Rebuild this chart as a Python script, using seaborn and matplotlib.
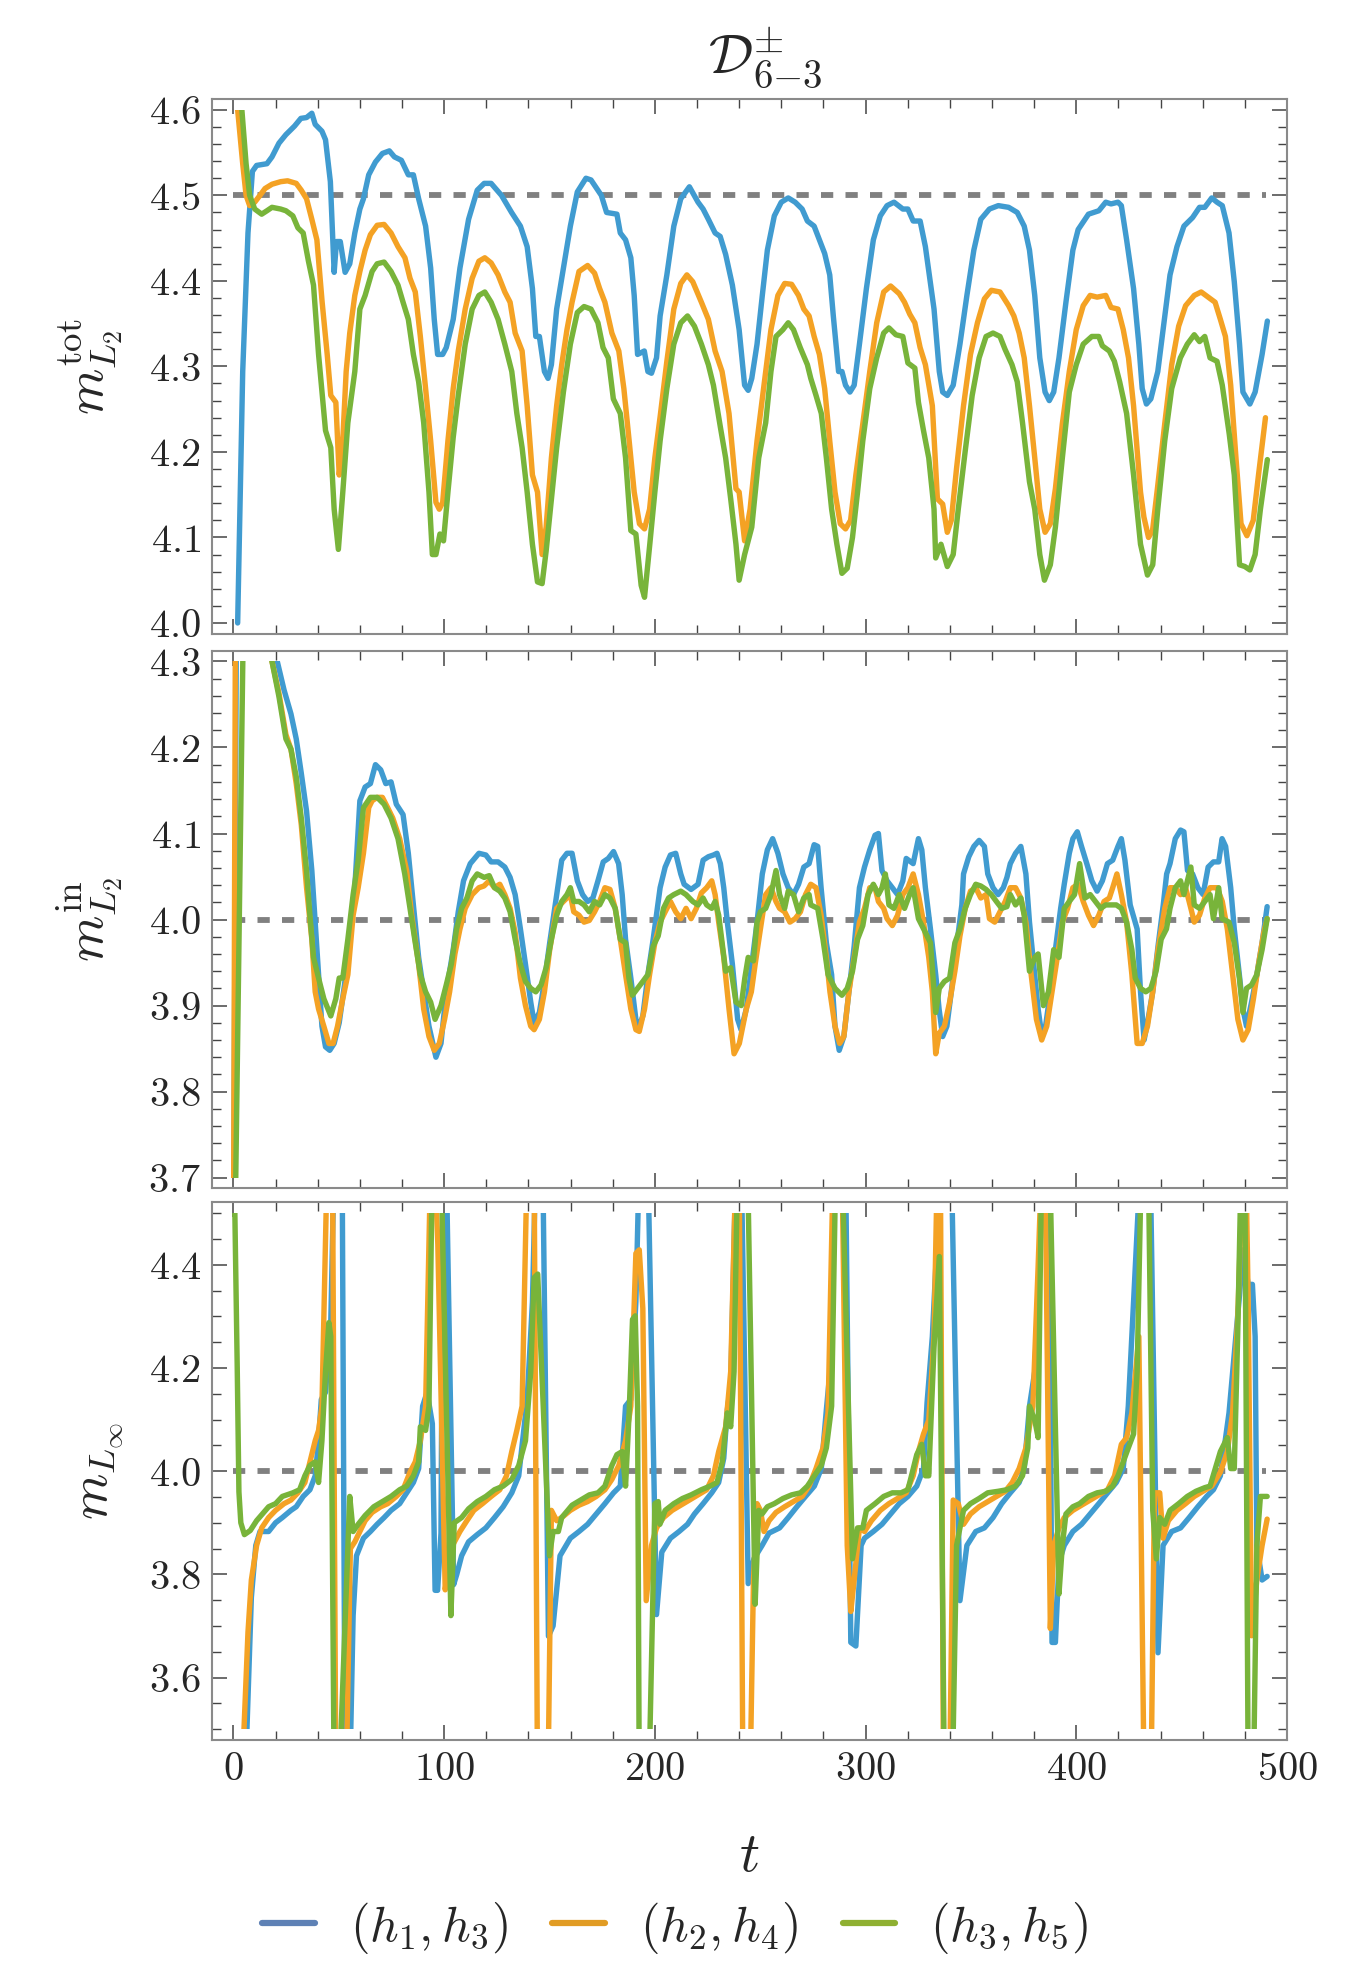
import matplotlib
matplotlib.use("Agg")
import matplotlib.pyplot as plt
import seaborn as sns
import pandas as pd
from matplotlib.patches import Rectangle
from matplotlib.lines import Line2D
from matplotlib.ticker import MultipleLocator, FuncFormatter

# ---- data (t, value) ----
labels = ["$(h_1,h_3)$", "$(h_2,h_4)$", "$(h_3,h_5)$"]
line_colors = ["#409bd0", "#f4a224", "#78b43a"]
legend_colors = ["#5e81b5", "#e19c24", "#8fb032"]

# panel 1: m^tot_L2
tot_h13 = [(2, 4.0), (4.4, 4.294), (6.9, 4.456), (9, 4.528), (11, 4.535), (15.9, 4.537), (18.3, 4.545), (21.6, 4.561),
           (24.9, 4.571), (29, 4.581), (32, 4.59), (34.7, 4.591), (37.2, 4.596), (38.8, 4.583), (42, 4.575), (43.7, 4.565),
           (46, 4.516), (47, 4.456), (47.8, 4.41), (48.9, 4.446), (50.7, 4.446), (53, 4.41), (55.2, 4.42), (57.6, 4.456),
           (60, 4.484), (61.7, 4.496), (64.2, 4.524), (67.4, 4.539), (70.7, 4.549), (74, 4.552), (76.4, 4.545), (79.7, 4.541),
           (83, 4.524), (85.4, 4.524), (87.9, 4.496), (91.2, 4.464), (93.6, 4.415), (95.3, 4.355), (96.9, 4.314), (99.3, 4.314),
           (101, 4.322), (104.3, 4.355), (107.5, 4.415), (111.6, 4.472), (115.7, 4.506), (119, 4.514), (122.3, 4.514),
           (127.2, 4.5), (132, 4.48), (136.2, 4.464), (139.4, 4.44), (141.9, 4.391), (143.5, 4.335), (145.2, 4.335),
           (147.6, 4.294), (149.3, 4.286), (150.9, 4.302), (153.4, 4.367), (156.6, 4.415), (159.9, 4.464), (163.2, 4.504),
           (167.3, 4.52), (169.7, 4.518), (174.6, 4.5), (177.1, 4.48), (182, 4.478), (183.6, 4.456), (186.1, 4.448),
           (188.6, 4.427), (190.2, 4.383), (191.8, 4.314), (195, 4.318), (196.7, 4.294), (198.4, 4.292), (200.8, 4.31),
           (202.5, 4.359), (205.7, 4.407), (209, 4.464), (212.3, 4.496), (216.4, 4.51), (220.5, 4.492), (222.9, 4.484),
           (225.4, 4.472), (228.6, 4.456), (231, 4.452), (233.6, 4.431), (236.8, 4.395), (240, 4.343), (242.6, 4.278),
           (244.3, 4.272), (246, 4.286), (248.5, 4.326), (251, 4.383), (253.4, 4.436), (256.7, 4.476), (260, 4.492),
           (263.3, 4.497), (266.6, 4.492), (269.9, 4.484), (272.4, 4.47), (275.6, 4.464), (278.1, 4.448), (280.6, 4.432),
           (283, 4.407), (284.7, 4.359), (287.2, 4.294), (288.8, 4.294), (290.5, 4.278), (292.6, 4.27), (294.6, 4.278),
           (297.1, 4.326), (300.4, 4.391), (303.7, 4.448), (307, 4.476), (310.2, 4.488), (313.5, 4.492), (317.7, 4.484),
           (320.1, 4.484), (322.6, 4.47), (325.9, 4.47), (328.4, 4.44), (332.5, 4.367), (335, 4.294), (336.6, 4.27),
           (338.8, 4.266), (341.6, 4.278), (344.8, 4.326), (348.1, 4.383), (351.4, 4.436), (354.7, 4.472), (358.8, 4.484),
           (363, 4.488), (367.9, 4.486), (372, 4.48), (375.3, 4.464), (377.8, 4.436), (380.3, 4.383), (382.7, 4.31),
           (385.2, 4.27), (387.2, 4.26), (389.3, 4.27), (391.8, 4.31), (395.1, 4.375), (398.4, 4.436), (400.9, 4.46),
           (405.8, 4.478), (410.7, 4.482), (414, 4.492), (416.5, 4.49), (419.8, 4.492), (421.4, 4.488), (423.9, 4.448),
           (427.2, 4.391), (429.7, 4.326), (431.3, 4.274), (433.3, 4.256), (435.4, 4.262), (438.7, 4.294), (441.2, 4.343),
           (444.5, 4.407), (447.8, 4.44), (451.1, 4.464), (455.2, 4.474), (458.5, 4.486), (461, 4.486), (464.3, 4.497),
           (466.8, 4.492), (469.3, 4.488), (472.5, 4.456), (475, 4.399), (477.5, 4.326), (479.1, 4.27), (482.4, 4.256),
           (484.9, 4.27), (488.2, 4.314), (490.7, 4.353)]
tot_h24 = [(2, 4.6), (4.4, 4.537), (6, 4.5), (7.7, 4.488), (10.1, 4.492), (12.6, 4.5), (15, 4.508), (18.3, 4.513),
           (22.4, 4.516), (25.7, 4.517), (29.8, 4.514), (32.2, 4.506), (34.7, 4.496), (37.2, 4.472), (39.6, 4.448),
           (42.1, 4.375), (44.5, 4.314), (46.2, 4.266), (48.6, 4.258), (50.2, 4.173), (51.9, 4.214), (53.5, 4.294),
           (55.2, 4.339), (57.6, 4.383), (60, 4.411), (62.5, 4.436), (65, 4.454), (68.2, 4.465), (71.5, 4.466), (74.8, 4.456),
           (78.1, 4.44), (81.4, 4.427), (83.8, 4.403), (86.3, 4.387), (88.7, 4.335), (91.2, 4.274), (93.6, 4.213),
           (96.1, 4.141), (97.7, 4.133), (99.3, 4.141), (101.8, 4.213), (104.3, 4.274), (106.7, 4.318), (110, 4.367),
           (113.3, 4.403), (116.5, 4.423), (119.3, 4.427), (122.3, 4.421), (125.6, 4.407), (128.8, 4.387), (131.3, 4.375),
           (133.7, 4.339), (137, 4.318), (139.4, 4.254), (141.9, 4.173), (144.3, 4.153), (146.5, 4.08), (148.4, 4.112),
           (150.9, 4.193), (153.4, 4.254), (155.8, 4.302), (158.3, 4.343), (160.7, 4.375), (164, 4.411), (168.1, 4.418),
           (171.4, 4.409), (173.8, 4.391), (176.3, 4.375), (179.6, 4.339), (182.9, 4.318), (185.3, 4.274), (187.8, 4.213),
           (190.2, 4.153), (192.7, 4.116), (195.1, 4.11), (197.5, 4.133), (200, 4.193), (202.5, 4.241), (205.7, 4.306),
           (209, 4.367), (212.3, 4.397), (215.2, 4.407), (218, 4.399), (222.1, 4.375), (225.4, 4.355), (228.6, 4.318),
           (231.9, 4.294), (235.2, 4.245), (238.5, 4.157), (240, 4.153), (242.6, 4.096), (245.2, 4.133), (248.5, 4.213),
           (251.8, 4.278), (255.1, 4.343), (258.4, 4.383), (261.6, 4.397), (264.9, 4.396), (268.2, 4.383), (270.7, 4.367),
           (273.2, 4.359), (275.6, 4.335), (278.1, 4.314), (280.6, 4.274), (283, 4.213), (285.5, 4.153), (288, 4.116),
           (290.5, 4.11), (292.9, 4.12), (295.4, 4.173), (298.7, 4.233), (302, 4.294), (305.3, 4.351), (308.6, 4.387),
           (311.9, 4.394), (316, 4.385), (318.5, 4.375), (321, 4.361), (323.4, 4.351), (325.9, 4.322), (328.4, 4.302),
           (331.7, 4.254), (334.1, 4.145), (336.6, 4.139), (338.8, 4.106), (340.7, 4.12), (343.2, 4.181), (346.5, 4.254),
           (349.8, 4.314), (353.1, 4.351), (356.4, 4.379), (359.7, 4.389), (363.8, 4.387), (367.9, 4.371), (370.4, 4.359),
           (372.9, 4.339), (375.3, 4.31), (377.8, 4.254), (380.3, 4.193), (382.7, 4.133), (385.2, 4.106), (387.7, 4.116),
           (390.1, 4.157), (393.4, 4.233), (396.7, 4.294), (400, 4.343), (403.3, 4.371), (406.6, 4.383), (409.9, 4.381),
           (414, 4.383), (416.5, 4.369), (419.8, 4.367), (422.3, 4.343), (424.8, 4.31), (427.2, 4.254), (430.5, 4.153),
           (432.1, 4.124), (434.3, 4.1), (436.2, 4.108), (438.7, 4.161), (442, 4.233), (445.3, 4.302), (448.6, 4.347),
           (451.9, 4.371), (456, 4.383), (459.3, 4.387), (462.6, 4.381), (465.9, 4.375), (468.4, 4.355), (470.8, 4.335),
           (473.3, 4.278), (475.8, 4.193), (478.2, 4.116), (481, 4.102), (484, 4.12), (486.5, 4.173), (489.8, 4.24)]
tot_h35 = [(4, 4.6), (6, 4.537), (7.7, 4.5), (10.1, 4.484), (13.4, 4.478), (15.9, 4.482), (18.3, 4.486), (22.4, 4.484),
           (24.9, 4.482), (28.2, 4.476), (30.6, 4.462), (33.1, 4.456), (35.6, 4.423), (38, 4.395), (40.4, 4.314),
           (43.7, 4.225), (46.2, 4.205), (47.8, 4.133), (49.8, 4.086), (51.9, 4.153), (54.3, 4.234), (57.6, 4.294),
           (60, 4.367), (62.5, 4.383), (65.8, 4.411), (68.2, 4.42), (71.5, 4.422), (74.8, 4.411), (78.1, 4.395), (80.5, 4.375),
           (83, 4.355), (85.4, 4.314), (87.9, 4.282), (90.3, 4.234), (92.8, 4.153), (94.4, 4.08), (96.1, 4.08), (98, 4.104),
           (99.7, 4.096), (101.8, 4.153), (104.3, 4.217), (106.7, 4.266), (110, 4.326), (113.3, 4.367), (116.5, 4.383),
           (119.3, 4.387), (122.3, 4.375), (125.6, 4.355), (128.8, 4.326), (132.1, 4.294), (134.5, 4.245), (137, 4.205),
           (139.4, 4.153), (141.9, 4.092), (144.3, 4.048), (146.5, 4.046), (148.4, 4.084), (150.9, 4.145), (153.4, 4.205),
           (156.6, 4.27), (159.9, 4.326), (163.2, 4.363), (166.4, 4.37), (169.7, 4.367), (173, 4.351), (175.4, 4.322),
           (177.9, 4.31), (180.3, 4.262), (183.6, 4.245), (186.1, 4.193), (188.6, 4.108), (191, 4.104), (193.5, 4.044),
           (195.1, 4.03), (197.6, 4.092), (200, 4.153), (202.5, 4.213), (205.7, 4.274), (209, 4.326), (212.3, 4.351),
           (215.5, 4.359), (218.8, 4.347), (222.1, 4.326), (225.4, 4.302), (227.8, 4.278), (231.1, 4.229), (233.6, 4.193),
           (236, 4.145), (238.5, 4.092), (240, 4.05), (242.6, 4.08), (246, 4.112), (249.3, 4.193), (252.6, 4.234),
           (255.1, 4.294), (257.5, 4.335), (260.8, 4.343), (263.3, 4.351), (265.8, 4.343), (269, 4.322), (272.4, 4.302),
           (274, 4.286), (276.5, 4.266), (279, 4.245), (281.4, 4.193), (283.9, 4.133), (286.4, 4.092), (288.8, 4.058),
           (291.3, 4.064), (293.8, 4.1), (296.2, 4.153), (298.7, 4.213), (302, 4.274), (305.3, 4.31), (308.6, 4.339),
           (311.1, 4.345), (314.4, 4.337), (317.7, 4.335), (320.1, 4.304), (323.4, 4.298), (325.1, 4.258), (327.5, 4.225),
           (330, 4.193), (332.5, 4.133), (333.3, 4.076), (335.8, 4.092), (338.8, 4.066), (341.6, 4.08), (344, 4.133),
           (347.3, 4.201), (350.6, 4.266), (353.9, 4.31), (357.2, 4.335), (360.5, 4.339), (363.8, 4.335), (366.2, 4.32),
           (369.5, 4.302), (372, 4.282), (374.5, 4.234), (377.8, 4.165), (380.3, 4.133), (382.7, 4.08), (384.9, 4.05),
           (387.7, 4.068), (390.1, 4.112), (393.4, 4.193), (396.7, 4.27), (400, 4.302), (403.3, 4.326), (407.4, 4.335),
           (410.7, 4.335), (412.4, 4.324), (415.7, 4.318), (418.1, 4.306), (420.6, 4.282), (423.9, 4.245), (427.2, 4.173),
           (430.5, 4.092), (433.8, 4.056), (436.3, 4.068), (438.7, 4.133), (442, 4.213), (445.3, 4.274), (449.4, 4.31),
           (452.7, 4.326), (456, 4.337), (458.5, 4.329), (461, 4.335), (463.5, 4.31), (466.8, 4.306), (469.3, 4.278),
           (472.6, 4.221), (475, 4.173), (477.5, 4.068), (480, 4.066), (482.4, 4.062), (484.9, 4.08), (487.4, 4.133),
           (490.7, 4.191)]

# panel 2: m^in_L2
in_h13 = [(0, 3.6), (1.5, 4.4), (19, 4.4), (20.8, 4.3), (24, 4.267), (27.3, 4.239), (29.8, 4.21), (32.2, 4.17),
          (34.7, 4.126), (37.2, 4.057), (38.8, 3.997), (40.4, 3.936), (42, 3.876), (43.7, 3.852), (45.7, 3.848),
          (47.8, 3.856), (50.2, 3.88), (52.7, 3.924), (55.2, 3.977), (57.6, 4.037), (60, 4.138), (62.5, 4.154), (65, 4.158),
          (67.4, 4.18), (69.9, 4.174), (72.3, 4.158), (74.8, 4.16), (77.3, 4.134), (80.5, 4.122), (83, 4.077), (85.4, 4.017),
          (87.9, 3.956), (90.3, 3.916), (92.8, 3.876), (96.1, 3.84), (98.5, 3.856), (101, 3.916), (104.3, 3.965),
          (106.7, 4.009), (109.2, 4.045), (112.4, 4.065), (116.5, 4.077), (119.8, 4.075), (122.3, 4.067), (125.6, 4.067),
          (128.8, 4.061), (131.3, 4.049), (133.7, 4.029), (136.2, 3.989), (138.6, 3.948), (141.1, 3.904), (142.7, 3.88),
          (145.2, 3.892), (147.6, 3.928), (150.1, 3.973), (153.4, 4.029), (155.8, 4.069), (158.3, 4.077), (160.7, 4.077),
          (163.2, 4.045), (165.7, 4.029), (168.1, 4.021), (170.6, 4.025), (173, 4.045), (175.5, 4.067), (177.9, 4.071),
          (180.4, 4.079), (182.8, 4.065), (184.5, 4.029), (186.1, 3.977), (188.6, 3.932), (191, 3.884), (192.6, 3.876),
          (194.3, 3.888), (196.7, 3.936), (199.2, 3.977), (202.5, 4.037), (204.9, 4.061), (207.4, 4.075), (209.9, 4.077),
          (212.3, 4.053), (213.9, 4.041), (217.2, 4.035), (220.5, 4.041), (222.9, 4.069), (225.4, 4.073), (227.8, 4.075),
          (229.5, 4.077), (231.1, 4.065), (232.7, 4.037), (234.4, 3.997), (236.8, 3.948), (239.3, 3.884), (240.9, 3.872),
          (243.4, 3.896), (246, 3.948), (248.5, 3.997), (251, 4.053), (253.4, 4.081), (255.9, 4.094), (258.4, 4.077),
          (260.8, 4.053), (263.3, 4.037), (265.8, 4.029), (268.2, 4.041), (270.7, 4.061), (273.2, 4.065), (275.6, 4.087),
          (277.3, 4.085), (278.9, 4.037), (281.4, 3.973), (283.9, 3.936), (285.5, 3.876), (287.5, 3.848), (289.7, 3.864),
          (292.1, 3.916), (294.6, 3.969), (297.1, 4.037), (299.5, 4.061), (302, 4.081), (304.5, 4.098), (306.1, 4.1),
          (307.8, 4.057), (310.2, 4.045), (312.7, 4.037), (315.2, 4.029), (317.7, 4.045), (319.3, 4.071), (322.6, 4.065),
          (325.1, 4.094), (326.7, 4.081), (328.4, 4.037), (330.8, 3.989), (333.3, 3.936), (334.9, 3.896), (336.6, 3.864),
          (338.6, 3.876), (340.7, 3.916), (343.2, 3.969), (345.7, 4.017), (346.5, 4.053), (349, 4.073), (351.4, 4.085),
          (353.9, 4.092), (356.4, 4.085), (358, 4.053), (360.5, 4.037), (362.9, 4.029), (365.4, 4.037), (367.1, 4.049),
          (368.7, 4.065), (371.2, 4.077), (373.7, 4.085), (376.1, 4.053), (377.8, 3.997), (380.3, 3.936), (381.9, 3.896),
          (383.5, 3.868), (385.2, 3.872), (387.7, 3.916), (390.1, 3.965), (392.6, 4.013), (394.3, 4.041), (396.7, 4.077),
          (398.4, 4.094), (400.5, 4.102), (402.5, 4.085), (405, 4.065), (407.4, 4.045), (409.9, 4.033), (412.4, 4.045),
          (414.8, 4.065), (417.3, 4.069), (419.8, 4.085), (421.4, 4.094), (423.1, 4.069), (425.6, 4.017), (428.9, 3.989),
          (430.5, 3.916), (432.2, 3.86), (433.8, 3.88), (436.3, 3.916), (438.8, 3.969), (441.3, 4.017), (442.9, 4.053),
          (444.5, 4.065), (447, 4.094), (449.5, 4.104), (451.1, 4.102), (452.8, 4.057), (455.2, 4.053), (457.7, 4.037),
          (460.2, 4.029), (462.6, 4.061), (465.1, 4.067), (467.6, 4.067), (469.2, 4.094), (470.9, 4.085), (473.3, 4.037),
          (475, 3.989), (477.4, 3.936), (479.1, 3.896), (480.8, 3.876), (483.2, 3.904), (485.7, 3.936), (488.2, 3.973),
          (490.6, 4.015)]
in_h24 = [(0, 3.6), (1, 4.4), (17, 4.4), (18.3, 4.3), (21.6, 4.263), (24.9, 4.215), (27.3, 4.198), (29.8, 4.158),
          (32.2, 4.11), (34.7, 4.037), (37.2, 3.977), (38.8, 3.916), (40.4, 3.896), (42.9, 3.876), (45.3, 3.856),
          (47.3, 3.856), (49.4, 3.876), (51.9, 3.908), (54.3, 3.936), (56.8, 4.005), (59.2, 4.037), (61.7, 4.077),
          (64.2, 4.13), (65.8, 4.138), (68.2, 4.142), (70.7, 4.142), (73.2, 4.13), (75.6, 4.118), (78.9, 4.094),
          (82.2, 4.057), (84.6, 4.005), (87.9, 3.948), (90.3, 3.896), (92.8, 3.864), (95.3, 3.848), (97.7, 3.856),
          (100.2, 3.884), (102.6, 3.916), (105.1, 3.96), (107.5, 3.989), (110, 4.013), (113.3, 4.029), (116.5, 4.037),
          (118.9, 4.039), (121.4, 4.045), (123.9, 4.037), (126.4, 4.041), (128.8, 4.029), (131.3, 4.013), (133.7, 3.985),
          (136.2, 3.932), (138.6, 3.9), (141.1, 3.876), (142.7, 3.872), (145.2, 3.884), (147.6, 3.916), (150.1, 3.965),
          (153.4, 4.013), (156.6, 4.021), (159.9, 4.029), (161.5, 4.009), (164, 4.005), (166.4, 3.997), (168.9, 3.999),
          (171.4, 4.009), (173.8, 4.021), (176.3, 4.037), (178.7, 4.035), (181.2, 4.013), (183.6, 3.977), (186.1, 3.936),
          (188.6, 3.896), (191, 3.872), (192.6, 3.87), (195.1, 3.896), (197.5, 3.936), (200, 3.973), (202.5, 3.997),
          (204.9, 4.009), (207.4, 4.021), (209.9, 4.009), (212.3, 4.001), (214.8, 4.013), (217.2, 4.001), (219.7, 4.013),
          (222.1, 4.031), (224.6, 4.037), (227, 4.045), (228.6, 4.029), (230.3, 3.997), (232.7, 3.956), (235.2, 3.896),
          (237.6, 3.844), (240.1, 3.856), (243.4, 3.896), (245.8, 3.916), (247.6, 3.948), (250.1, 3.989), (252.6, 4.029),
          (255.1, 4.037), (257.5, 4.021), (259.2, 4.013), (261.6, 4.009), (264.1, 3.997), (266.6, 4.001), (269.1, 4.009),
          (271.5, 4.029), (274, 4.041), (276.5, 4.037), (278.9, 4.005), (281.4, 3.956), (283.1, 3.916), (285.5, 3.876),
          (287.7, 3.856), (289.7, 3.864), (292.1, 3.916), (294.6, 3.956), (297.1, 3.997), (299.5, 4.013), (302, 4.037),
          (304.5, 4.037), (306.1, 4.021), (308.6, 4.013), (310.2, 4.001), (312.7, 3.993), (315.2, 4.005), (317.7, 4.029),
          (320.1, 4.037), (322.6, 4.053), (325.1, 4.029), (327.5, 3.997), (330, 3.956), (331.7, 3.916), (333.3, 3.844),
          (335, 3.868), (337.4, 3.876), (339.9, 3.904), (342.4, 3.94), (344.8, 3.981), (347.3, 4.013), (349.8, 4.033),
          (352.3, 4.037), (354.7, 4.025), (357.2, 4.029), (358.8, 4.001), (361.3, 3.997), (363.8, 4.009), (366.3, 4.021),
          (368.7, 4.037), (371.2, 4.037), (373.7, 4.025), (376.1, 3.997), (378.6, 3.936), (381.1, 3.884), (383.6, 3.86),
          (386, 3.876), (388.5, 3.916), (391, 3.956), (393.4, 3.997), (395.9, 4.013), (398.4, 4.037), (400.8, 4.041),
          (403.3, 4.021), (405.8, 4.005), (408.2, 3.993), (410.7, 4.005), (413.2, 4.021), (415.7, 4.025), (417.3, 4.037),
          (419.3, 4.053), (421.4, 4.029), (423.9, 3.997), (426.4, 3.936), (428.9, 3.856), (431.3, 3.856), (433.8, 3.876),
          (436.3, 3.916), (438.8, 3.965), (442, 4.013), (444.5, 4.037), (447, 4.037), (449.5, 4.029), (451.9, 4.037),
          (454.4, 4.013), (456, 3.997), (458.5, 4.005), (461, 4.025), (463.5, 4.037), (466.8, 4.037), (469.3, 4.021),
          (471.7, 3.989), (474.2, 3.936), (476.7, 3.884), (479.1, 3.86), (481.6, 3.872), (484.1, 3.908), (486.5, 3.948),
          (489, 3.985), (490.6, 4.001)]
in_h35 = [(0.5, 3.6), (1.1, 3.7), (4.4, 4.3), (5, 4.4), (17.5, 4.4), (18.3, 4.3), (21.6, 4.259), (24.9, 4.21),
          (27.3, 4.198), (29.8, 4.166), (32.2, 4.118), (34.7, 4.057), (36.3, 4.005), (38, 3.956), (40.4, 3.932),
          (42.9, 3.908), (46.2, 3.888), (48.6, 3.908), (50.2, 3.932), (51.9, 3.932), (54.3, 3.977), (56.8, 4.029),
          (59.2, 4.069), (61.7, 4.13), (65, 4.142), (68.2, 4.142), (71.5, 4.134), (74.8, 4.118), (78.1, 4.094),
          (81.3, 4.053), (83.8, 4.013), (86.3, 3.973), (88.7, 3.936), (91.2, 3.916), (93.6, 3.904), (95.7, 3.884),
          (98.5, 3.9), (101, 3.924), (103.4, 3.948), (105.9, 3.989), (108.3, 4.013), (110.8, 4.025), (113.3, 4.045),
          (115.7, 4.053), (119, 4.049), (121.4, 4.051), (123.9, 4.037), (126.4, 4.033), (128.8, 4.025), (131.3, 4.009),
          (133.7, 3.977), (136.2, 3.948), (138.6, 3.928), (141.1, 3.92), (143.5, 3.916), (146, 3.924), (148.4, 3.944),
          (150.9, 3.977), (153.4, 4.005), (155.8, 4.021), (158.3, 4.029), (159.9, 4.037), (161.5, 4.021), (164, 4.021),
          (166.4, 4.017), (168.9, 4.009), (171.4, 4.021), (173.8, 4.017), (176.3, 4.029), (178.7, 4.025), (181.2, 4.013),
          (183.6, 3.977), (186.1, 3.973), (187.7, 3.932), (189.3, 3.912), (191.8, 3.92), (194.3, 3.928), (196.7, 3.936),
          (199.2, 3.969), (201.6, 3.981), (204.1, 4.013), (206.5, 4.025), (209, 4.029), (212.3, 4.033), (214.8, 4.029),
          (218, 4.021), (220.5, 4.017), (222.9, 4.025), (224.6, 4.017), (227, 4.013), (228.6, 4.021), (230.3, 4.005),
          (231.9, 3.973), (233.6, 3.94), (236, 3.944), (238.5, 3.904), (241, 3.9), (242.7, 3.932), (244.3, 3.956),
          (246.8, 3.952), (248.5, 3.997), (250.1, 4.009), (252.6, 4.013), (255.1, 4.029), (257.5, 4.057), (259.2, 4.029),
          (261.6, 4.013), (263.3, 4.033), (265.8, 4.029), (268.2, 4.009), (270.7, 4.025), (273.2, 4.029), (274, 4.017),
          (277.3, 4.013), (279.8, 3.977), (282.2, 3.936), (285.5, 3.92), (288.8, 3.912), (291.3, 3.92), (293.8, 3.94),
          (296.2, 3.977), (298.7, 3.993), (301.2, 4.029), (303.7, 4.041), (306.1, 4.029), (307.8, 4.037), (309.4, 4.053),
          (311.1, 4.017), (313.5, 4.013), (316, 4.029), (318.5, 4.013), (320.9, 4.029), (322.6, 4.037), (325.1, 4.001),
          (328.4, 3.985), (330.8, 3.973), (333.3, 3.892), (335, 3.92), (337.4, 3.928), (339.9, 3.932), (342.4, 3.973),
          (344.8, 3.989), (347.3, 4.013), (349.8, 4.029), (352.3, 4.041), (354.7, 4.039), (357.2, 4.035), (359.7, 4.029),
          (362.1, 4.021), (364.6, 4.013), (367.1, 4.015), (368.7, 4.029), (371.2, 4.017), (373.7, 4.025), (375.3, 4.005),
          (377.8, 3.94), (380.3, 3.956), (381.9, 3.96), (384.4, 3.9), (386.8, 3.916), (389.3, 3.965), (391.8, 3.956),
          (394.3, 4.013), (396.7, 4.021), (399.2, 4.029), (401.6, 4.065), (404.1, 4.025), (406.6, 4.029), (409.1, 4.021),
          (411.6, 4.013), (414, 4.017), (416.5, 4.017), (419, 4.017), (421.4, 4.013), (423.9, 3.997), (426.4, 3.965),
          (428, 3.932), (430.5, 3.92), (433, 3.916), (435.4, 3.92), (437.9, 3.94), (440.3, 3.977), (442.8, 3.989),
          (444.5, 4.013), (447, 4.037), (449.5, 4.045), (451.1, 4.029), (454.4, 4.061), (456, 4.017), (458.5, 4.013),
          (461, 4.021), (463.5, 4.029), (465.1, 4.001), (467.6, 4.037), (469.2, 4.001), (472.5, 3.997), (475, 3.973),
          (477.4, 3.932), (479.1, 3.892), (480.8, 3.92), (483.2, 3.924), (485.7, 3.936), (488.2, 3.965), (490.6, 4.001)]

# panel 3: m_Linf (values beyond the plot range are clipped at the frame)
inf_h13 = [(0, 3.4), (6, 3.45), (8.5, 3.755), (10.6, 3.856), (12.6, 3.883), (16.7, 3.883), (20, 3.9), (23.2, 3.91),
           (27.3, 3.924), (29.8, 3.931), (33.1, 3.951), (36.3, 3.964), (38.8, 3.991), (40.4, 4.059), (41.7, 4.139),
           (43.7, 4.153), (46.2, 4.29), (47.8, 4.6), (51.6, 4.6), (53, 3.4), (55.2, 3.4), (56.8, 3.72), (58.4, 3.836),
           (61.7, 3.87), (65, 3.883), (68.2, 3.897), (71.5, 3.91), (74.8, 3.924), (78.9, 3.937), (82.2, 3.958),
           (85.4, 3.978), (87.9, 4.005), (89.8, 4.126), (91.9, 4.153), (94.4, 4.092), (95.7, 3.769), (96.9, 3.769),
           (98.5, 3.88), (99.5, 4.6), (101, 4.6), (104.5, 3.78), (106, 3.8), (108.3, 3.836), (111.6, 3.863), (115.7, 3.877),
           (119.8, 3.89), (123.9, 3.91), (128, 3.931), (132.1, 3.958), (135.4, 3.991), (137.8, 4.079), (139.4, 4.139),
           (141.9, 4.328), (143.5, 4.6), (146.8, 4.6), (149.5, 3.68), (151.7, 3.7), (155, 3.836), (159.9, 3.87),
           (164, 3.883), (168.1, 3.897), (172.2, 3.917), (176.3, 3.937), (180.4, 3.958), (183.6, 3.971), (186.1, 4.126),
           (188.6, 4.139), (191, 4.328), (192.6, 4.6), (196.7, 4.6), (200.8, 3.722), (203.3, 3.843), (207.4, 3.87),
           (211.5, 3.883), (215.5, 3.897), (218.8, 3.917), (222.9, 3.937), (227, 3.958), (230.3, 3.978), (232.7, 4.025),
           (234.4, 4.119), (236, 4.166), (238.5, 4.6), (241, 4.6), (244.3, 3.782), (247, 3.83), (250.9, 3.856),
           (254.2, 3.88), (259.2, 3.89), (263.3, 3.91), (267.4, 3.931), (271.5, 3.951), (275.7, 3.971), (279, 4.005),
           (281.4, 4.119), (283.1, 4.193), (285.2, 4.6), (290.5, 4.6), (293, 3.668), (295.4, 3.661), (297.9, 3.856),
           (299.5, 3.87), (303.7, 3.883), (307.8, 3.897), (311.9, 3.917), (316, 3.937), (320.1, 3.951), (324.3, 3.971),
           (327.5, 4.005), (329.2, 4.133), (331.7, 4.261), (335.8, 4.6), (340.7, 4.6), (344.8, 3.749), (348.1, 3.856),
           (352.3, 3.883), (356.4, 3.89), (360.5, 3.91), (364.6, 3.937), (368.7, 3.958), (372.9, 3.978), (375.3, 4.005),
           (377.8, 4.126), (380.3, 4.193), (382.7, 4.422), (384.4, 4.6), (386.9, 4.6), (388.5, 3.668), (390.1, 3.668),
           (391.8, 3.823), (394.3, 3.856), (398.4, 3.883), (402.5, 3.897), (406.6, 3.917), (410.7, 3.937), (414.9, 3.958),
           (419, 3.978), (422.3, 4.005), (424.7, 4.126), (427.2, 4.328), (430.5, 4.6), (435.1, 4.6), (438.8, 3.648),
           (441.2, 3.856), (445.3, 3.883), (449.5, 3.89), (453.6, 3.91), (457.7, 3.931), (461.9, 3.951), (465.1, 3.964),
           (468.4, 3.991), (472.5, 4.113), (475, 4.227), (477.5, 4.342), (479.1, 4.429), (481.6, 4.362), (483.6, 4.362),
           (484.9, 4.261), (485.7, 3.856), (488.2, 3.789), (490.6, 3.796)]
inf_h24 = [(0, 3.3), (4.5, 3.45), (6.9, 3.688), (8.5, 3.789), (11, 3.856), (13.4, 3.89), (16.7, 3.91), (20, 3.924),
           (24, 3.937), (27.3, 3.944), (30.6, 3.958), (33.9, 3.978), (36.3, 4.018), (38.8, 4.059), (40.4, 4.079),
           (42, 4.126), (44.5, 4.6), (47, 4.6), (48.6, 3.4), (53.5, 3.4), (55.5, 3.85), (57.6, 3.863), (60, 3.883),
           (62.5, 3.904), (65.8, 3.92), (69.9, 3.931), (73.2, 3.937), (77.3, 3.951), (80.5, 3.964), (83.8, 3.998),
           (86.3, 4.018), (88.7, 4.059), (91.2, 4.126), (93.6, 4.6), (95.5, 4.6), (97, 4.44), (100.5, 3.77), (102.5, 3.83),
           (104.5, 3.86), (107.5, 3.883), (110.8, 3.904), (114.1, 3.924), (118.2, 3.937), (122.3, 3.951), (126.4, 3.964),
           (129.6, 3.991), (132.1, 4.038), (134.5, 4.079), (137, 4.126), (139.4, 4.6), (142.7, 4.6), (144.3, 3.4),
           (149.3, 3.4), (150.9, 3.924), (153.4, 3.904), (155.8, 3.91), (159.9, 3.924), (164, 3.934), (168.1, 3.941),
           (172.2, 3.951), (176.3, 3.964), (179.6, 3.984), (182.9, 4.011), (186.1, 4.059), (188.6, 4.126), (191, 4.422),
           (192.6, 4.429), (194.3, 4.315), (195.9, 3.749), (198.4, 3.856), (200.8, 3.89), (204.1, 3.91), (208.2, 3.924),
           (212.3, 3.934), (216.4, 3.944), (220.5, 3.954), (224.6, 3.964), (227.8, 3.991), (230.3, 4.038), (233.6, 4.086),
           (236, 4.193), (238.5, 4.6), (240, 4.6), (241.8, 3.4), (245.2, 3.4), (246.8, 3.789), (248.5, 3.937),
           (250.1, 3.924), (251.8, 3.883), (254.2, 3.904), (257.5, 3.92), (261.6, 3.931), (265.8, 3.941), (269.9, 3.951),
           (273.2, 3.971), (276.5, 4.005), (279.8, 4.045), (282.2, 4.113), (284.7, 4.6), (288.8, 4.6), (291.3, 3.856),
           (293, 3.728), (294.6, 3.789), (297.1, 3.89), (299.5, 3.883), (302.8, 3.904), (307, 3.924), (311.1, 3.937),
           (315.2, 3.947), (319.3, 3.958), (322.6, 3.991), (325.1, 4.038), (327.5, 4.072), (330, 4.099), (332.5, 4.261),
           (334.1, 4.6), (335.5, 4.6), (337, 3.4), (339.9, 3.4), (341.6, 3.944), (344, 3.937), (346.5, 3.897),
           (349.8, 3.917), (353.9, 3.931), (358, 3.941), (362.1, 3.951), (366.3, 3.961), (369.6, 3.978), (372.9, 4.005),
           (376.1, 4.045), (379.4, 4.126), (381.9, 4.396), (383.6, 4.6), (385.2, 4.6), (387.7, 3.695), (389.3, 3.856),
           (391.8, 3.89), (394.3, 3.91), (398.4, 3.924), (402.5, 3.934), (406.6, 3.944), (410.7, 3.954), (414.9, 3.964),
           (418.2, 3.991), (421.4, 4.052), (423.9, 4.065), (426.4, 4.113), (429.7, 4.261), (432.2, 3.4), (435.5, 3.4),
           (437.1, 3.958), (439.6, 3.958), (441.2, 3.87), (443.7, 3.904), (447.8, 3.924), (451.9, 3.937), (456, 3.951),
           (460.2, 3.961), (464.3, 3.971), (468.4, 3.998), (471.7, 4.038), (474.2, 4.113), (476.6, 4.294), (479.1, 4.6),
           (480.5, 4.6), (481.6, 4.328), (483.2, 3.681), (485.7, 3.789), (488.2, 3.856), (490.6, 3.907)]
inf_h35 = [(0.3, 4.6), (1.8, 4.2), (2.6, 3.96), (3.5, 3.9), (5.2, 3.877), (8, 3.885), (11, 3.904), (16.7, 3.931),
           (20, 3.937), (23.2, 3.951), (28.2, 3.958), (31.4, 3.964), (33.9, 3.991), (36.3, 4.011), (38.8, 4.018),
           (40.4, 3.978), (42, 4.059), (43.7, 4.193), (45.3, 4.288), (46.2, 4.261), (47.8, 3.4), (50.2, 3.4),
           (55.2, 3.951), (56.8, 3.883), (59.2, 3.897), (62.5, 3.914), (66.6, 3.931), (70.7, 3.941), (74.8, 3.951),
           (78.9, 3.964), (82.2, 3.971), (85.4, 3.991), (87.9, 4.018), (88.7, 4.086), (91.2, 4.079), (92.8, 4.126),
           (94.4, 4.6), (98.5, 4.6), (103.2, 3.72), (104.8, 3.9), (108.3, 3.91), (111.6, 3.927), (115.7, 3.941),
           (119.8, 3.951), (123.9, 3.964), (128, 3.971), (132.1, 3.984), (135.4, 4.011), (138.6, 4.059), (141.1, 4.193),
           (142.7, 4.375), (144.4, 4.382), (150, 3.836), (151.7, 3.883), (154.2, 3.883), (155.8, 3.91), (160.7, 3.934),
           (164.8, 3.944), (168.9, 3.954), (173, 3.958), (176.3, 3.971), (179.6, 4.011), (182, 4.032), (184.5, 4.038),
           (186.1, 3.971), (187.8, 4.113), (189.4, 4.294), (190.7, 4.301), (191.8, 4.126), (192.6, 3.4), (197.2, 3.4),
           (200, 3.937), (201.6, 3.941), (202.4, 3.897), (204.9, 3.924), (209, 3.937), (213.1, 3.947), (217.2, 3.954),
           (222.1, 3.964), (226.2, 3.971), (229.5, 3.978), (232, 4.018), (234.4, 4.113), (236, 4.086), (237.6, 4.193),
           (239.3, 4.6), (244, 4.6), (247.6, 3.742), (249.3, 3.924), (250.9, 3.917), (253.4, 3.931), (256.7, 3.937),
           (260.8, 3.947), (264.9, 3.954), (269.1, 3.958), (272.4, 3.971), (275.7, 3.991), (279, 4.011), (281.4, 4.045),
           (283.9, 4.126), (285.9, 4.6), (288.8, 4.6), (293.8, 3.83), (296.2, 3.89), (298.7, 3.89), (300.4, 3.924),
           (304.5, 3.937), (308.6, 3.951), (312.7, 3.958), (316.8, 3.958), (320.1, 3.964), (321.8, 3.991), (324.3, 4.032),
           (326.7, 4.052), (328.4, 3.991), (330, 3.991), (332.5, 4.241), (335, 4.416), (337.4, 3.4), (341.2, 3.4),
           (343.2, 3.856), (344.8, 3.89), (346.5, 3.924), (349.8, 3.937), (353.9, 3.947), (358, 3.958), (363, 3.961),
           (367.1, 3.964), (371.2, 3.971), (374.5, 3.991), (377, 4.045), (377.8, 4.126), (380.3, 4.099), (381.9, 4.065),
           (383.6, 4.6), (387.4, 4.6), (391.8, 3.762), (393.4, 3.856), (395.1, 3.917), (398.4, 3.931), (401.6, 3.937),
           (405.8, 3.951), (409.9, 3.958), (414, 3.961), (417.3, 3.971), (419.8, 3.991), (422.3, 4.018), (424.7, 4.045),
           (427.2, 4.072), (428.9, 4.193), (430.9, 4.6), (434.2, 4.6), (436.3, 3.924), (438, 3.83), (439.6, 3.91),
           (442, 3.897), (444.5, 3.924), (448.6, 3.937), (452.7, 3.951), (456.8, 3.961), (461, 3.968), (463.5, 3.971),
           (466, 4.005), (468.4, 4.038), (471.7, 4.065), (473.3, 4.005), (475, 4.005), (476.6, 4.261), (478.3, 4.6),
           (480, 4.6), (481.6, 3.4), (484.1, 3.4), (485.7, 3.856), (487.4, 3.951), (490.6, 3.951)]

ref_t = [0, 490]
ref_levels = [4.5, 4.0, 4.0]

panels = [
    ([tot_h13, tot_h24, tot_h35], r"$m^{\rm tot}_{L_2}$", (3.987, 4.6125), (3.9, 4.6), 0.1, 0.02),
    ([in_h13, in_h24, in_h35], r"$m^{\rm in}_{L_2}$", (3.688, 4.312), (3.7, 4.3), 0.1, 0.02),
    ([inf_h13, inf_h24, inf_h35], r"$m_{L_\infty}$", (3.479, 4.522), (3.5, 4.5), 0.2, 0.05),
]
rects = [[0.157, 0.6796, 0.7963, 0.2703],
         [0.157, 0.3997, 0.7963, 0.2713],
         [0.157, 0.1208, 0.7963, 0.2719]]

sns.set_style("ticks")
plt.rcParams["mathtext.fontset"] = "cm"
plt.rcParams["font.family"] = ["DejaVu Serif"]

fig = plt.figure(figsize=(13.5, 19.79), dpi=100)
axes = []
for i, (series, ylab, ylim, clip, major, minor) in enumerate(panels):
    ax = fig.add_axes(rects[i])
    axes.append(ax)
    sns.lineplot(x=ref_t, y=[ref_levels[i]] * 2, ax=ax, color="#808080", legend=False)
    ref_line = ax.lines[-1]
    ref_line.set_linewidth(4.2)
    ref_line.set_linestyle((0, (2.1, 2.1)))
    box = Rectangle((-20, clip[0]), 540, clip[1] - clip[0], transform=ax.transData)
    for pts, col in zip(series, line_colors):
        df = pd.DataFrame(pts, columns=["t", "v"])
        sns.lineplot(data=df, x="t", y="v", ax=ax, color=col, sort=False,
                     estimator=None, legend=False)
        ax.lines[-1].set_linewidth(3.9)
        ax.lines[-1].set_clip_path(box)
    ax.set_xlim(-10.2, 500)
    ax.set_ylim(*ylim)
    ax.xaxis.set_major_locator(MultipleLocator(100))
    ax.xaxis.set_minor_locator(MultipleLocator(20))
    ax.yaxis.set_major_locator(MultipleLocator(major))
    ax.yaxis.set_minor_locator(MultipleLocator(minor))
    ax.yaxis.set_major_formatter(FuncFormatter(lambda v, p: f"${v:.1f}$"))
    ax.xaxis.set_major_formatter(FuncFormatter(lambda v, p: f"${v:.0f}$"))
    ax.tick_params(which="both", direction="in", top=True, right=True, color="#444444")
    ax.tick_params(which="major", length=11, width=1.1, labelsize=29, pad=8)
    ax.tick_params(which="minor", length=6.5, width=1.0)
    for sp in ax.spines.values():
        sp.set_color("#8a8a8a")
        sp.set_linewidth(1.5)
    ax.set_ylabel(ylab, fontsize=38)
    ax.yaxis.set_label_coords(-0.08, 0.5)
    ax.set_xlabel("")
    if i < 2:
        ax.tick_params(labelbottom=False)

axes[2].set_xlabel("$t$", fontsize=40)
axes[2].xaxis.set_label_coords(0.5, -0.165)

fig.text(0.567, 0.971, r"$\mathcal{D}^{\pm}_{6{-}3}$", fontsize=40, ha="center", va="center")

handles = [Line2D([0], [0], color=c, lw=4.5) for c in legend_colors]
fig.legend(handles, labels, loc="center", bbox_to_anchor=(0.5, 0.026), ncol=3, frameon=False,
           fontsize=36, handlelength=1.05, columnspacing=0.9, handletextpad=0.7)

fig.savefig("out.png", dpi=100)
